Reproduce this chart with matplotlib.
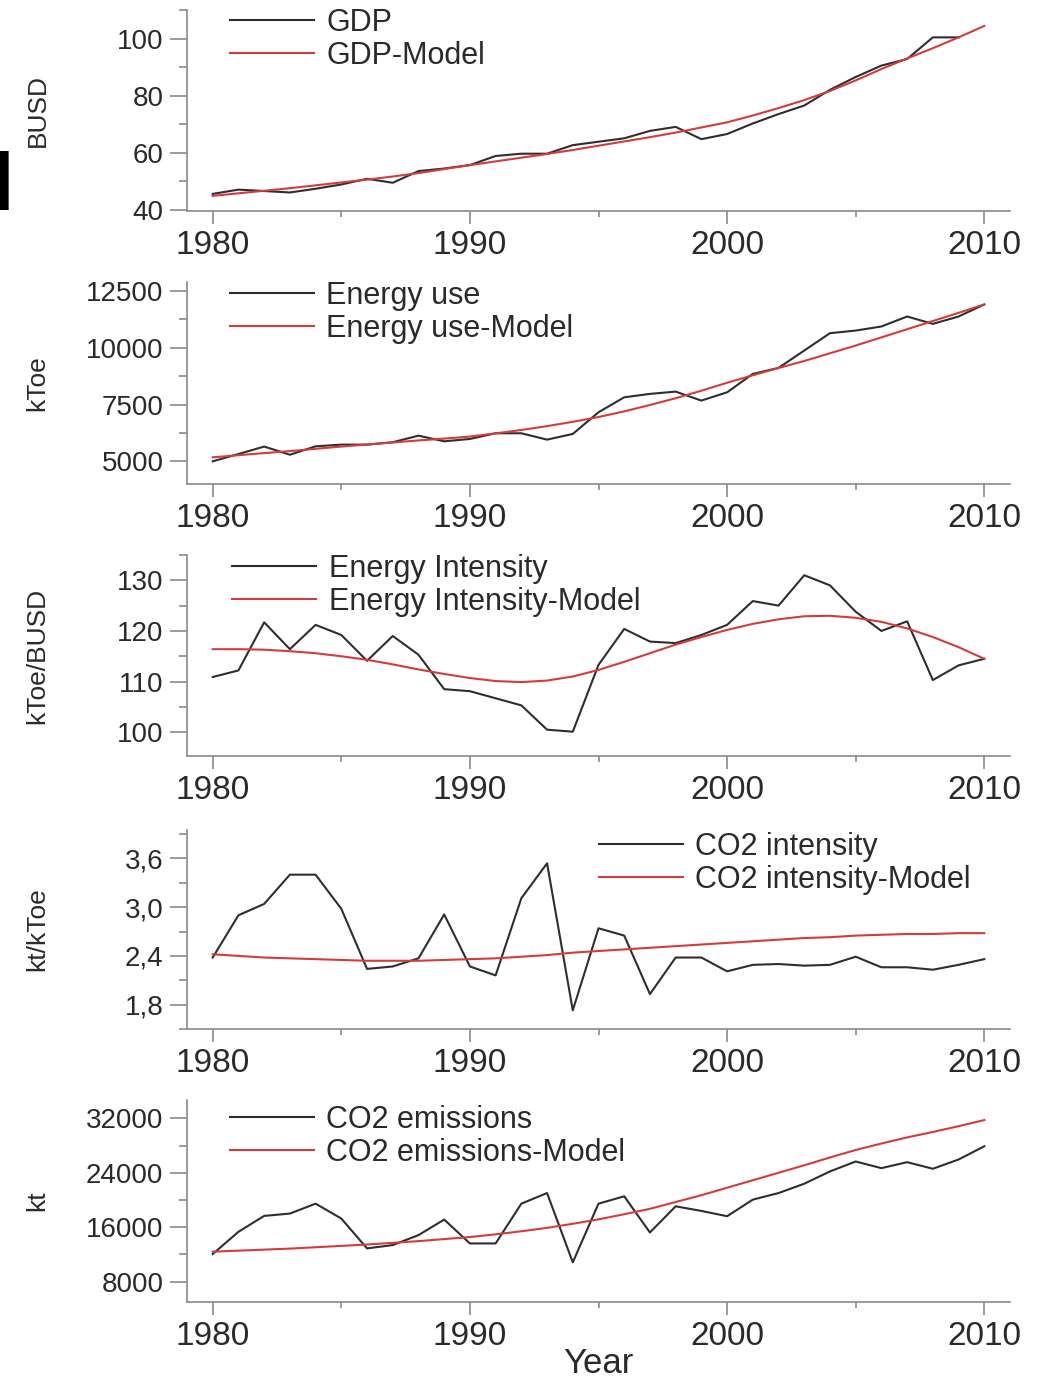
import matplotlib
matplotlib.use("Agg")
import matplotlib.pyplot as plt
from matplotlib.ticker import MultipleLocator, FuncFormatter

plt.rcParams["font.family"] = ["Liberation Sans", "DejaVu Sans"]

years = list(range(1980, 2011))

# GDP (BUSD) - observed series stops at 2009
gdp = [45.5, 47.0, 46.5, 46.0, 47.3, 48.8, 50.8, 49.4, 53.5, 54.4,
       55.6, 58.8, 59.6, 59.6, 62.6, 63.8, 65.0, 67.6, 69.0, 64.7,
       66.5, 70.2, 73.5, 76.5, 82.0, 86.5, 90.5, 92.8, 100.4, 100.4]
gdp_model = [44.8, 45.7, 46.6, 47.5, 48.5, 49.5, 50.5, 51.6, 52.8, 54.2,
             55.6, 56.9, 58.2, 59.5, 60.9, 62.4, 63.9, 65.4, 67.0, 68.8,
             70.6, 73.0, 75.6, 78.4, 81.6, 85.3, 89.3, 93.0, 96.6, 100.4, 104.4]

# Energy use (kToe)
energy = [5000, 5320, 5650, 5290, 5660, 5735, 5735, 5840, 6130, 5880,
          5985, 6235, 6235, 5955, 6205, 7160, 7820, 7970, 8070, 7675,
          8040, 8850, 9115, 9880, 10645, 10760, 10940, 11380, 11055, 11380, 11910]
energy_model = [5175, 5270, 5360, 5450, 5550, 5650, 5740, 5830, 5920, 6000,
                6090, 6230, 6380, 6550, 6740, 6950, 7200, 7480, 7780, 8110,
                8460, 8790, 9110, 9420, 9760, 10100, 10460, 10820, 11180, 11540, 11910]

# Energy intensity (kToe/BUSD)
intensity = [110.9, 112.2, 121.7, 116.4, 121.2, 119.2, 114.1, 119.0, 115.3, 108.5,
             108.1, 106.7, 105.3, 100.5, 100.1, 113.3, 120.4, 117.9, 117.6, 119.2,
             121.2, 125.9, 125.0, 131.0, 129.0, 123.8, 120.0, 121.9, 110.3, 113.2, 114.5]
intensity_model = [116.4, 116.4, 116.3, 116.0, 115.6, 115.0, 114.3, 113.4, 112.4, 111.5,
                   110.7, 110.1, 109.9, 110.2, 111.0, 112.3, 113.9, 115.6, 117.3, 118.8,
                   120.2, 121.4, 122.3, 122.9, 123.0, 122.6, 121.8, 120.5, 118.8, 116.8, 114.5]

# CO2 intensity (kt/kToe)
co2_int = [2.38, 2.90, 3.04, 3.40, 3.40, 2.98, 2.24, 2.27, 2.37, 2.91,
           2.27, 2.16, 3.11, 3.54, 1.73, 2.74, 2.65, 1.93, 2.38, 2.38,
           2.21, 2.29, 2.30, 2.28, 2.29, 2.39, 2.26, 2.26, 2.23, 2.29, 2.36]
co2_int_model = [2.42, 2.40, 2.38, 2.37, 2.36, 2.35, 2.34, 2.34, 2.34, 2.35,
                 2.36, 2.37, 2.39, 2.41, 2.44, 2.46, 2.48, 2.50, 2.52, 2.54,
                 2.56, 2.58, 2.60, 2.62, 2.63, 2.65, 2.66, 2.67, 2.67, 2.68, 2.68]

# CO2 emissions (kt)
co2 = [12050, 15320, 17660, 18000, 19460, 17270, 12880, 13370, 14830, 17120,
       13610, 13610, 19460, 21020, 10830, 19460, 20540, 15220, 19070, 18390,
       17610, 20050, 21020, 22390, 24200, 25660, 24680, 25560, 24590, 25950, 27900]
co2_model = [12400, 12550, 12700, 12850, 13050, 13250, 13450, 13700, 13950, 14250,
             14550, 14950, 15400, 15900, 16500, 17150, 17900, 18700, 19700, 20700,
             21800, 22900, 24000, 25100, 26250, 27350, 28300, 29200, 30000, 30850, 31750]

W, H = 1055, 1379
fig = plt.figure(figsize=(W / 100, H / 100), dpi=100)

black = "#2e2e2e"
red = "#d23c3c"
grey = "#8a8a8a"
txt = "#2a2a2a"

# (top px, bottom px) of each panel
panel_px = [(10, 211), (282, 484), (555, 756), (830, 1029), (1100, 1302)]
left_px, right_px = 187, 1010

panels = [
    (years[:len(gdp)], gdp, gdp_model, "GDP", "BUSD", (39.5, 110), 20, 10, (0.052, 1.01)),
    (years, energy, energy_model, "Energy use", "kToe", (4000, 12900), 2500, 1250, (0.052, 1.005)),
    (years, intensity, intensity_model, "Energy Intensity", "kToe/BUSD", (95.3, 135), 10, 5, (0.055, 1.005)),
    (years, co2_int, co2_int_model, "CO2 intensity", "kt/kToe", (1.5, 3.95), 0.6, 0.3, (0.50, 0.99)),
    (years, co2, co2_model, "CO2 emissions", "kt", (5000, 34700), 8000, 4000, (0.052, 0.975)),
]

for i, (xs, obs, model, name, unit, ylim, major, minor, leg_pos) in enumerate(panels):
    top, bot = panel_px[i]
    ax = fig.add_axes([left_px / W, 1 - bot / H, (right_px - left_px) / W, (bot - top) / H])
    ax.plot(xs, obs, color=black, lw=1.5, label=name)
    ax.plot(years, model, color=red, lw=1.5, label=name + "-Model")

    ax.set_xlim(1979, 2011)
    ax.set_ylim(*ylim)
    ax.set_xticks([1980, 1990, 2000, 2010])
    ax.xaxis.set_minor_locator(MultipleLocator(5))
    ax.yaxis.set_major_locator(MultipleLocator(major))
    ax.yaxis.set_minor_locator(MultipleLocator(minor))
    if i == 3:
        ax.yaxis.set_major_formatter(FuncFormatter(lambda v, p: f"{v:.1f}".replace(".", ",")))
    else:
        ax.yaxis.set_major_formatter(FuncFormatter(lambda v, p: f"{v:.0f}"))

    for s in ["top", "right"]:
        ax.spines[s].set_visible(False)
    for s in ["left", "bottom"]:
        ax.spines[s].set_color(grey)
        ax.spines[s].set_linewidth(1.2)

    ax.tick_params(axis="x", which="major", length=9, width=1.2, color=grey,
                   labelsize=24, labelcolor=txt, pad=5)
    ax.tick_params(axis="x", which="minor", length=4, width=1.2, color=grey)
    ax.tick_params(axis="y", which="major", length=12, width=1.2, color=grey,
                   labelsize=20, labelcolor=txt, pad=5)
    ax.tick_params(axis="y", which="minor", length=6, width=1.2, color=grey)

    ax.set_ylabel(unit, fontsize=19, color=txt)
    ax.yaxis.set_label_coords(-0.167, 0.5)

    ax.legend(loc="upper left", bbox_to_anchor=leg_pos, frameon=False, fontsize=22,
              handlelength=2.75, handletextpad=0.4, labelspacing=0.1,
              borderpad=0, borderaxespad=0, labelcolor=txt)

    if i == 4:
        ax.set_xlabel("Year", fontsize=25, color=txt, labelpad=-4)

# clipped panel letter at the left edge
fig.text(-35 / W, 1 - 209 / H, "d", fontsize=58, fontweight="bold", color="black",
         va="baseline", ha="left")

fig.savefig("out.png", dpi=100)
